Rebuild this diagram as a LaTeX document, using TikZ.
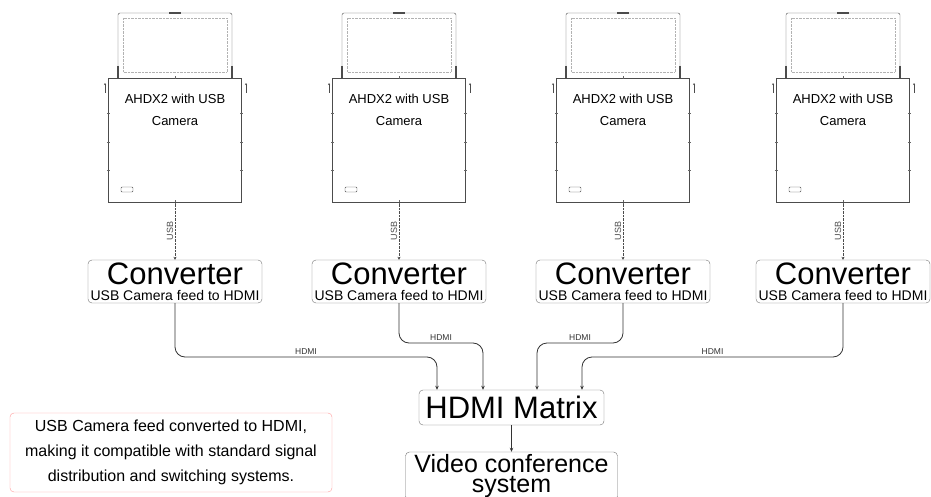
\documentclass[tikz,border=0pt]{standalone}
\usepackage{fontspec}
\setmainfont{Liberation Sans}
\usetikzlibrary{arrows.meta}

\begin{document}
\begin{tikzpicture}[x=1pt, y=-1pt]
    \useasboundingbox (0,0) rectangle (931,497);
    {
        \tikzset{
            cam/.style = {draw=black!70, minimum width=133pt, minimum height=124pt, inner sep=0pt},
            camtext/.style = {anchor=north, inner sep=0pt, yshift=-16pt, align=center, font=\fontsize{13}{22}\selectfont},
            conv/.style = {draw=black!55, rounded corners=4pt, minimum width=174pt, minimum height=43pt, inner sep=0pt, align=center, font=\fontsize{14}{15.5}\selectfont},
            bigbox/.style = {draw=black!55, rounded corners=4pt, inner sep=0pt, align=center}
        }

        % cameras
        \node[cam, label={[camtext]north:AHDX2 with USB\\Camera}] (cam1) at (175,140) {};
        \node[cam, label={[camtext]north:AHDX2 with USB\\Camera}] (cam2) at (399,140) {};
        \node[cam, label={[camtext]north:AHDX2 with USB\\Camera}] (cam3) at (623,140) {};
        \node[cam, label={[camtext]north:AHDX2 with USB\\Camera}] (cam4) at (843,140) {};

        % converters
        \node[conv] (conv1) at (175,281.5) {{\fontsize{31}{15.5}\selectfont Converter}\\USB Camera feed to HDMI};
        \node[conv] (conv2) at (399,281.5) {{\fontsize{31}{15.5}\selectfont Converter}\\USB Camera feed to HDMI};
        \node[conv] (conv3) at (623,281.5) {{\fontsize{31}{15.5}\selectfont Converter}\\USB Camera feed to HDMI};
        \node[conv] (conv4) at (843,281.5) {{\fontsize{31}{15.5}\selectfont Converter}\\USB Camera feed to HDMI};

        \node[bigbox, minimum width=185pt, minimum height=35pt, font=\fontsize{31}{31}\selectfont] (matrix) at (511.5,407.5) {HDMI Matrix};
        \node[bigbox, minimum width=212pt, minimum height=48pt, font=\fontsize{25}{20}\selectfont] (vcs) at (511.5,476) {Video conference\\system};

        \node[draw=red!40, rounded corners=4pt, minimum width=322pt, minimum height=79pt, align=center, font=\fontsize{16}{25}\selectfont] (note) at (171,452.5) {USB Camera feed converted to HDMI,\\making it compatible with standard signal\\distribution and switching systems.};
    }

    % laptop lids and small details
    \foreach \cx in {175,399,623,843} {
        \draw[black!70, rounded corners=2pt] (\cx-57,78) -- (\cx-57,13) -- (\cx+57,13) -- (\cx+57,78);
        \draw[black!30, densely dotted] (\cx-52,18) rectangle (\cx+52,72);
        \draw[line width=1.4pt, black!70] (\cx-57,66) -- (\cx-57,78) (\cx+57,66) -- (\cx+57,78);
        \draw[line width=1.2pt, black!70] (\cx-6,13) -- (\cx+6,13);
        \draw[black!70, -{Stealth[length=2pt, width=2pt]}] (\cx-70,93) -- (\cx-70,83);
        \draw[black!70, -{Stealth[length=2pt, width=2pt]}] (\cx+71,93) -- (\cx+71,83);
        \foreach \ty in {113,142,170} {
            \draw[black!60] (\cx-68,\ty) -- (\cx-65,\ty) (\cx+65,\ty) -- (\cx+68,\ty);
        }
        \draw[black!60] (\cx,76.5) -- (\cx,79.5) (\cx,200.5) -- (\cx,203.5);
        \draw[black!70, rounded corners=1pt] (\cx-54,187) rectangle (\cx-42,192);
    }

    \tikzset{
        usb/.style = {black!70, densely dotted, -{Stealth[length=3pt, width=3pt]}},
        usblbl/.style = {rotate=90, anchor=south, inner sep=1.5pt, font=\fontsize{9}{10}\selectfont},
        hdmi/.style = {black!80, line width=0.8pt, rounded corners=10pt, -{Stealth[length=4pt, width=3.5pt]}},
        hdmilbl/.style = {above, inner sep=2pt, font=\fontsize{8.5}{10}\selectfont}
    }

    \draw (cam1) edge[usb] node[usblbl, midway] {USB} (conv1);
    \draw (cam2) edge[usb] node[usblbl, midway] {USB} (conv2);
    \draw (cam3) edge[usb] node[usblbl, midway] {USB} (conv3);
    \draw (cam4) edge[usb] node[usblbl, midway] {USB} (conv4);

    \coordinate (m1) at ([xshift=-74.5pt]matrix.north);
    \coordinate (m2) at ([xshift=-28.5pt]matrix.north);
    \coordinate (m3) at ([xshift=25.5pt]matrix.north);
    \coordinate (m4) at ([xshift=70.5pt]matrix.north);

    \draw[hdmi] (conv1.south) -- (conv1.south |- 0,357) -- node[hdmilbl] {HDMI} (m1 |- 0,357) -- (m1);
    \draw[hdmi] (conv2.south) -- (conv2.south |- 0,343) -- node[hdmilbl] {HDMI} (m2 |- 0,343) -- (m2);
    \draw[hdmi] (conv3.south) -- (conv3.south |- 0,343) -- node[hdmilbl] {HDMI} (m3 |- 0,343) -- (m3);
    \draw[hdmi] (conv4.south) -- (conv4.south |- 0,357) -- node[hdmilbl] {HDMI} (m4 |- 0,357) -- (m4);

    \draw (matrix) edge[black!80, line width=0.8pt, -{Stealth[length=4pt, width=3.5pt]}] (vcs);

\end{tikzpicture}
\end{document}
